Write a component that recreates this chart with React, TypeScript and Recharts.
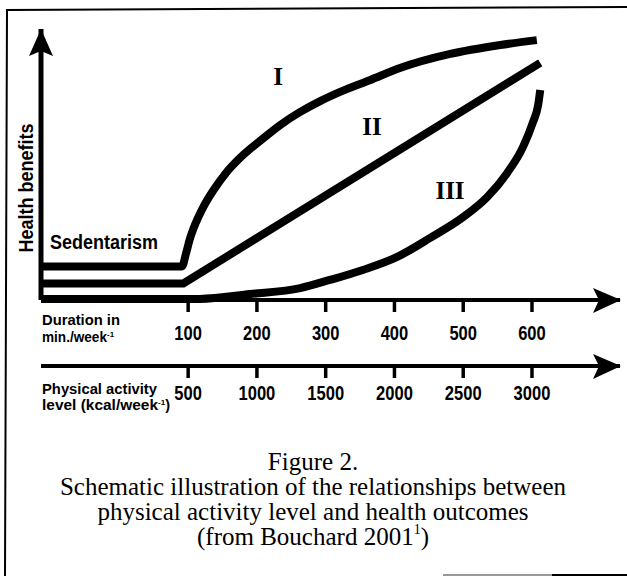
import { LineChart, Line, XAxis, YAxis } from "recharts";

// x: duration in min/week, y: health benefits (arbitrary 0-100 scale)
const curveIMinutes = [-114, 91, 97, 102, 111, 122, 137, 155, 177, 206, 234, 263, 292, 321, 365, 408, 481, 554, 607];
const curveIBenefit = [12.4, 12.4, 17.3, 22.1, 28.4, 34.3, 40.6, 46.9, 52.8, 59.0, 64.6, 69.4, 73.4, 76.8, 81.2, 85.6, 90.8, 94.1, 95.9];

const curveIIMinutes = [-114, 93, 612];
const curveIIBenefit = [6.1, 6.1, 87.5];

const curveIIIMinutes = [-114, 117, 190, 263, 306, 354, 404, 452, 500, 535, 564, 587, 601, 609, 612];
const curveIIIBenefit = [0.4, 0.4, 2.2, 4.4, 7.4, 11.1, 15.9, 22.9, 30.6, 38.0, 46.9, 56.5, 65.3, 72.0, 77.5];

const durationTicks = [100, 200, 300, 400, 500, 600];
const kcalTicks = [500, 1000, 1500, 2000, 2500, 3000];

const captionLines = [
  "Figure 2.",
  "Schematic illustration of the relationships between",
  "physical activity level and health outcomes",
];

const toPoints = (xs: number[], ys: number[]) => xs.map((m, i) => ({ m, b: ys[i] }));

const curveI = toPoints(curveIMinutes, curveIBenefit);
const curveII = toPoints(curveIIMinutes, curveIIBenefit);
const curveIII = toPoints(curveIIIMinutes, curveIIIBenefit);
const kcalData = kcalTicks.map((kcal) => ({ kcal }));

const SANS = "'Liberation Sans', Arial, sans-serif";
const SERIF = "'Liberation Serif', 'Times New Roman', serif";

function TickLabel(props: any) {
  const label = String(props.payload.value);
  return (
    <text
      x={props.x}
      y={Number(props.y) + props.labelDy}
      textAnchor="middle"
      dominantBaseline="central"
      fontFamily={SANS}
      fontWeight="bold"
      fontSize={21}
      textLength={label.length * 9.2}
      lengthAdjust="spacingAndGlyphs"
      fill="#000"
    >
      {label}
    </text>
  );
}

function Overlay() {
  return (
    <svg
      width={627}
      height={576}
      style={{ position: "absolute", left: 0, top: 0, pointerEvents: "none" }}
    >
      {/* frame */}
      <polyline points="627,7 7,10 5,576" fill="none" stroke="#000" strokeWidth={2} />
      <line x1={443} y1={575} x2={552} y2={575} stroke="#999" strokeWidth={2} />
      <line x1={552} y1={575} x2={627} y2={575} stroke="#000" strokeWidth={2} />

      {/* arrow heads */}
      <polygon points="41,29 53,56 41,51 29,56" fill="#000" />
      <polygon points="621,300 593,288 599,300 593,313" fill="#000" />
      <polygon points="621,366 593,354 599,366 593,379" fill="#000" />

      <text
        x={26}
        y={188}
        transform="rotate(-90 26 188)"
        textAnchor="middle"
        dominantBaseline="central"
        fontFamily={SANS}
        fontWeight="bold"
        fontSize={20}
        textLength={129}
        lengthAdjust="spacingAndGlyphs"
      >
        Health benefits
      </text>
      <text
        x={50}
        y={242}
        dominantBaseline="central"
        fontFamily={SANS}
        fontWeight="bold"
        fontSize={20}
        textLength={108}
        lengthAdjust="spacingAndGlyphs"
      >
        Sedentarism
      </text>

      <g fontFamily={SERIF} fontWeight="bold" fontSize={25} textAnchor="middle" dominantBaseline="central">
        <text x={278} y={76}>I</text>
        <text x={372} y={126}>II</text>
        <text x={450} y={190}>III</text>
      </g>

      <g fontFamily={SANS} fontWeight="bold" fontSize={14.5} dominantBaseline="central">
        <text x={42} y={320} textLength={78} lengthAdjust="spacingAndGlyphs">Duration in</text>
        <text x={42} y={337}>
          <tspan textLength={65} lengthAdjust="spacingAndGlyphs">min./week</tspan>
          <tspan fontSize={8} dy={-3}>-1</tspan>
        </text>
        <text x={42} y={389} textLength={115} lengthAdjust="spacingAndGlyphs">Physical activity</text>
        <text x={42} y={405}>
          <tspan textLength={116} lengthAdjust="spacingAndGlyphs">level (kcal/week</tspan>
          <tspan fontSize={8} dy={-3}>-1</tspan>
          <tspan dy={3}>)</tspan>
        </text>
      </g>

      <g fontFamily={SERIF} fontSize={25} textAnchor="middle" dominantBaseline="central" fill="#000">
        {captionLines.map((line, i) => (
          <text key={i} x={313} y={461 + i * 25}>
            {line}
          </text>
        ))}
        <text x={313} y={536}>
          (from Bouchard 2001<tspan fontSize={14} dy={-7}>1</tspan>
          <tspan dy={7}>)</tspan>
        </text>
      </g>
    </svg>
  );
}

export default function App() {
  return (
    <div style={{ position: "absolute", left: 0, top: 0, width: 627, height: 576, background: "#fff" }}>
      <LineChart width={627} height={576} data={kcalData} margin={{ top: 29, right: 7, left: 40, bottom: 170 }}>
        <YAxis
          type="number"
          domain={[0, 100]}
          width={1}
          tick={false}
          tickLine={false}
          stroke="#000"
          axisLine={{ stroke: "#000", strokeWidth: 5 }}
        />
        <XAxis
          xAxisId="dur"
          dataKey="m"
          type="number"
          domain={[-114, 728]}
          allowDataOverflow
          ticks={durationTicks}
          interval={0}
          height={66}
          tickSize={12}
          tickMargin={0}
          stroke="#000"
          tickLine={{ stroke: "#000", strokeWidth: 3.5 }}
          axisLine={{ stroke: "#000", strokeWidth: 4 }}
          tick={(p: any) => <TickLabel {...p} labelDy={20} />}
        />
        <XAxis
          xAxisId="kcal"
          dataKey="kcal"
          type="number"
          domain={[-570, 3640]}
          allowDataOverflow
          ticks={kcalTicks}
          interval={0}
          height={40}
          tickSize={12}
          tickMargin={0}
          stroke="#000"
          tickLine={{ stroke: "#000", strokeWidth: 3.5 }}
          axisLine={{ stroke: "#000", strokeWidth: 4 }}
          tick={(p: any) => <TickLabel {...p} labelDy={14} />}
        />
        <Line
          xAxisId="dur"
          data={curveI}
          dataKey="b"
          type="monotone"
          stroke="#000"
          strokeWidth={8}
          dot={false}
          isAnimationActive={false}
        />
        <Line
          xAxisId="dur"
          data={curveII}
          dataKey="b"
          type="linear"
          stroke="#000"
          strokeWidth={8}
          dot={false}
          isAnimationActive={false}
        />
        <Line
          xAxisId="dur"
          data={curveIII}
          dataKey="b"
          type="monotone"
          stroke="#000"
          strokeWidth={8}
          dot={false}
          isAnimationActive={false}
        />
      </LineChart>
      <Overlay />
    </div>
  );
}
